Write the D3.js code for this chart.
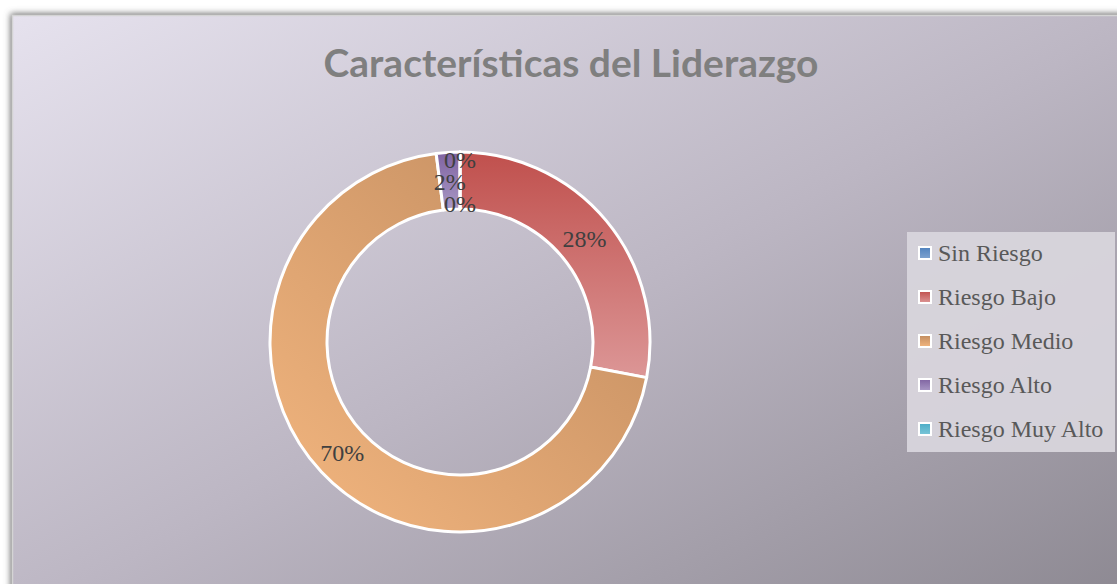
<!DOCTYPE html>
<html>
<head>
<meta charset="utf-8">
<script src="https://cdn.jsdelivr.net/npm/d3@7"></script>
<style>
  html, body { margin: 0; padding: 0; background: #fff; overflow: hidden; }
  svg { display: block; }
</style>
</head>
<body>
<svg width="1117" height="584"></svg>
<script>
// Data
var categories = ["Sin Riesgo", "Riesgo Bajo", "Riesgo Medio", "Riesgo Alto", "Riesgo Muy Alto"];
var values = [0, 28, 70, 2, 0];
var chartTitle = "Características del Liderazgo";

// Colours (dark end / light end of each slice gradient)
var darkColors = ["#4f81bd", "#c0504d", "#c08b5f", "#7f63a1", "#4bacc6"];
var lightColors = ["#7fa3d0", "#dc9696", "#f3b67f", "#a998c5", "#7cc6d8"];

var W = 1117, H = 584;
var svg = d3.select("svg");
var defs = svg.append("defs");

// Chart frame shadow + background gradient
var shadow = defs.append("filter").attr("id", "shadow")
    .attr("x", "-5%").attr("y", "-5%").attr("width", "110%").attr("height", "110%");
shadow.append("feGaussianBlur").attr("stdDeviation", 3);

var bg = defs.append("linearGradient").attr("id", "bg")
    .attr("x1", 0).attr("y1", 0).attr("x2", 1).attr("y2", 1);
bg.append("stop").attr("offset", "0%").attr("stop-color", "#e6e2ee");
bg.append("stop").attr("offset", "50%").attr("stop-color", "#bcb6c3");
bg.append("stop").attr("offset", "100%").attr("stop-color", "#8a868f");

var frameX = 12.5, frameY = 15.5;
svg.append("rect")
    .attr("x", frameX - 2).attr("y", frameY - 2)
    .attr("width", W + 40).attr("height", H + 40)
    .attr("fill", "#6e6e6e")
    .attr("filter", "url(#shadow)");
svg.append("rect")
    .attr("x", frameX).attr("y", frameY)
    .attr("width", W + 20).attr("height", H + 20)
    .attr("fill", "url(#bg)")
    .attr("stroke", "#d4d4d4")
    .attr("stroke-width", 1.5);

// Title
var title = svg.append("text")
    .attr("x", 571).attr("y", 77)
    .attr("text-anchor", "middle")
    .style("font-family", "Lato, 'Open Sans', sans-serif")
    .style("font-weight", "bold")
    .style("font-size", "38px")
    .attr("fill", "#7f7f7f")
    .text(chartTitle);
var tw = title.node().getComputedTextLength();
title.style("font-size", (38 * 495 / tw) + "px");

// Donut
var cx = 460, cy = 342, outerR = 190, innerR = 133;
var data = categories.map(function(c, i) { return {name: c, value: values[i], i: i}; });
var total = d3.sum(values);

var pie = d3.pie().sort(null).value(function(d) { return d.value; });
var arc = d3.arc().innerRadius(innerR).outerRadius(outerR);
var arcs = pie(data);

// slice gradients: red/purple vertical, orange diagonal
arcs.forEach(function(a, i) {
  var g = defs.append("linearGradient").attr("id", "slice" + i);
  if (i === 2) g.attr("x1", 1).attr("y1", 0).attr("x2", 0).attr("y2", 1);
  else g.attr("x1", 0).attr("y1", 0).attr("x2", 0).attr("y2", 1);
  g.append("stop").attr("offset", "0%").attr("stop-color", darkColors[i]);
  g.append("stop").attr("offset", "100%").attr("stop-color", lightColors[i]);
});

var donut = svg.append("g").attr("transform", "translate(" + cx + "," + cy + ")");
donut.selectAll("path.slice")
    .data(arcs)
  .enter().append("path")
    .attr("class", "slice")
    .attr("d", arc)
    .attr("fill", function(d, i) { return "url(#slice" + i + ")"; })
    .attr("stroke", "#fff")
    .attr("stroke-width", 3)
    .attr("stroke-linejoin", "round");

// Data labels at centroids, overlapping ones stacked vertically
var labels = arcs.map(function(a, i) {
  var c = arc.centroid(a);
  return {x: c[0], y: c[1], text: d3.format(".0%")(a.data.value / total), i: i};
});
var groups = [];
labels.forEach(function(l) {
  var g = groups.find(function(gr) {
    return gr.some(function(o) { return Math.abs(o.x - l.x) < 40 && Math.abs(o.y - l.y) < 22; });
  });
  if (g) g.push(l); else groups.push([l]);
});
var lineGap = 22;
groups.forEach(function(g) {
  if (g.length < 2) return;
  var my = d3.mean(g, function(l) { return l.y; });
  g.forEach(function(l, k) { l.y = my + 1 + (k - (g.length - 1) / 2) * lineGap; });
});

donut.selectAll("text.lbl")
    .data(labels)
  .enter().append("text")
    .attr("class", "lbl")
    .attr("x", function(d) { return d.x; })
    .attr("y", function(d) { return d.y; })
    .attr("dy", "0.35em")
    .attr("text-anchor", "middle")
    .style("font-family", "'Liberation Serif', serif")
    .style("font-size", "24px")
    .attr("fill", "#404040")
    .text(function(d) { return d.text; });

// Legend
var legX = 907, legY = 232, legW = 208, legH = 220, rowH = 44;
var legend = svg.append("g");
legend.append("rect")
    .attr("x", legX).attr("y", legY)
    .attr("width", legW).attr("height", legH)
    .attr("fill", "#d8d5dc")
    .attr("fill-opacity", 0.95);

var legendGrad = categories.map(function(c, i) {
  var g = defs.append("linearGradient").attr("id", "leg" + i)
      .attr("x1", 0).attr("y1", 0).attr("x2", 0).attr("y2", 1);
  g.append("stop").attr("offset", "0%").attr("stop-color", darkColors[i]);
  g.append("stop").attr("offset", "100%").attr("stop-color", lightColors[i]);
  return "url(#leg" + i + ")";
});

var rows = legend.selectAll("g.row")
    .data(categories)
  .enter().append("g")
    .attr("class", "row")
    .attr("transform", function(d, i) { return "translate(" + (legX + 18) + "," + (legY + 21 + i * rowH) + ")"; });
rows.append("rect")
    .attr("x", -6).attr("y", -6)
    .attr("width", 12).attr("height", 12)
    .attr("fill", function(d, i) { return legendGrad[i]; })
    .attr("stroke", "#fff")
    .attr("stroke-width", 2);
rows.append("text")
    .attr("x", 13)
    .attr("dy", "0.35em")
    .style("font-family", "'Liberation Serif', serif")
    .style("font-size", "24px")
    .attr("fill", "#595959")
    .text(function(d) { return d; });
</script>
</body>
</html>
